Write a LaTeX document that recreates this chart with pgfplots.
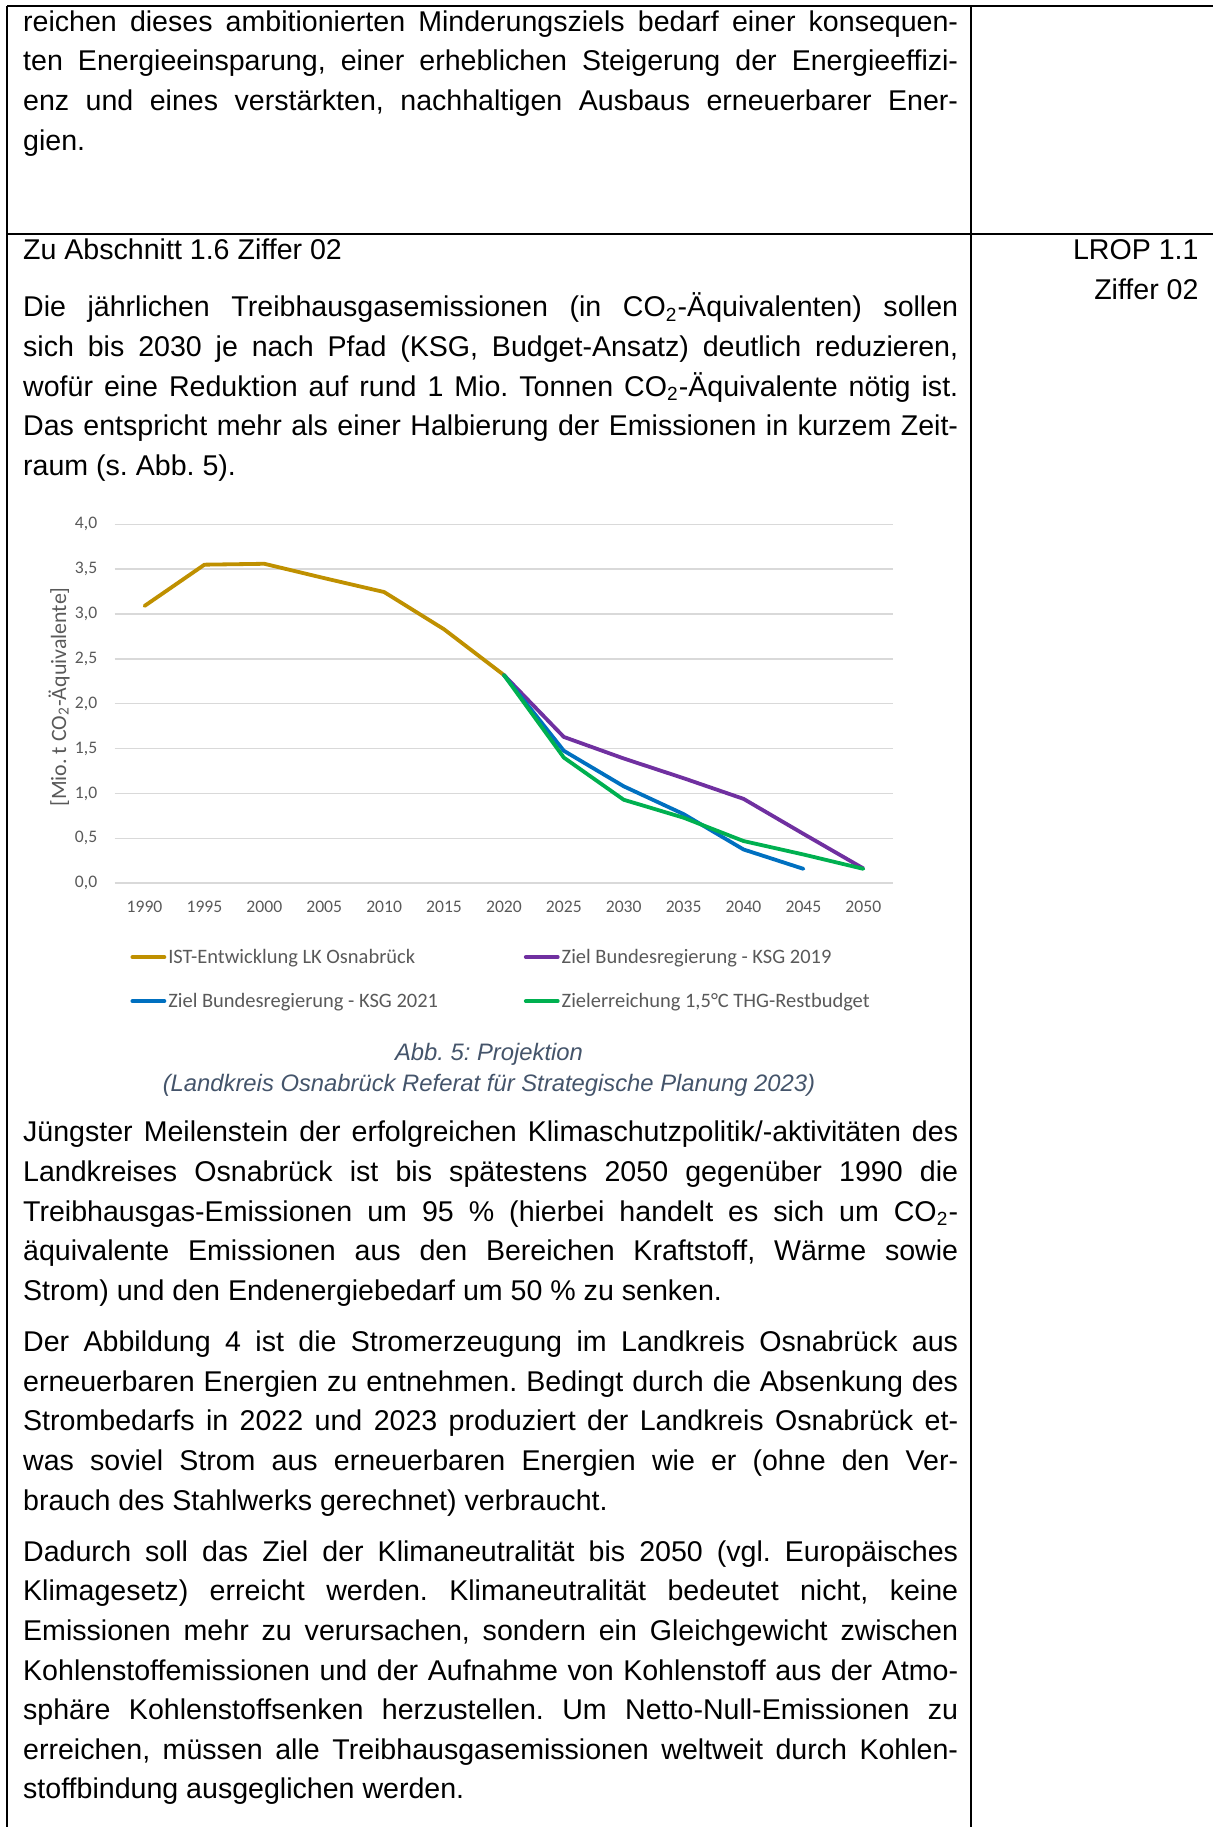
\documentclass[border=0pt]{standalone}
\usepackage{fontspec}
\setmainfont{Liberation Sans}
\newfontfamily\carlito{Carlito}
\usepackage{pgfplots}
\pgfplotsset{compat=1.18}
\definecolor{cgold}{HTML}{BF9000}
\definecolor{cpurple}{HTML}{7030A0}
\definecolor{cblue}{HTML}{0070C0}
\definecolor{cgreen}{HTML}{00B050}
\definecolor{cgrid}{HTML}{D9D9D9}
\definecolor{ctick}{HTML}{595959}
\definecolor{ccap}{HTML}{44546A}
\newcommand\body{\fontsize{12pt}{14pt}\selectfont}
\newcommand\J[2]{\node[anchor=base west,inner sep=0pt,font=\body] at (22.7,-#1) {\hbox to 392.7pt{#2}};}
\newcommand\Ln[2]{\node[anchor=base west,inner sep=0pt,font=\body] at (22.7,-#1) {#2};}
\newcommand\LE[1]{\makebox[148.5pt][l]{\rule[-2.5pt]{0pt}{9pt}#1}}
\frenchspacing
\begin{document}
\frenchspacing
\begin{tikzpicture}[x=0.42pt,y=0.42pt]
\useasboundingbox (0,0) rectangle (1213,-1827);
% table borders
\draw[line width=1.1pt] (7,-6) -- (1213,-6);
\draw[line width=0.9pt] (7,-6) -- (7,-1827);
\draw[line width=0.6pt] (971,-6) -- (971,-1827);
\draw[line width=0.7pt] (7,-234) -- (1213,-234);
% paragraph 1
\J{31.3}{reichen dieses ambitionierten Minderungsziels bedarf einer konsequen-}
\J{70.9}{ten Energieeinsparung, einer erheblichen Steigerung der Energieeffizi-}
\J{110.5}{enz und eines verstärkten, nachhaltigen Ausbaus erneuerbarer Ener-}
\Ln{150.2}{gien.}
% heading
\Ln{259.7}{Zu Abschnitt 1.6 Ziffer 02}
\node[anchor=base east,inner sep=0pt,font=\body] at (1199,-259.7) {LROP 1.1};
\node[anchor=base east,inner sep=0pt,font=\body] at (1199,-299.3) {Ziffer 02};
% paragraph 2
\J{316.8}{Die jährlichen Treibhausgasemissionen (in CO\textsubscript{2}-Äquivalenten) sollen}
\J{356.4}{sich bis 2030 je nach Pfad (KSG, Budget-Ansatz) deutlich reduzieren,}
\J{396.0}{wofür eine Reduktion auf rund 1 Mio. Tonnen CO\textsubscript{2}-Äquivalente nötig ist.}
\J{435.6}{Das entspricht mehr als einer Halbierung der Emissionen in kurzem Zeit-}
\Ln{475.2}{raum (s. Abb. 5).}
% chart
\begin{axis}[
  at={(48.13pt,-370.94pt)}, anchor=south west,
  scale only axis, width=327.05pt, height=150.74pt,
  xmin=1987.5, xmax=2052.5, ymin=0, ymax=4,
  xtick={1990,1995,...,2050}, ytick={0,0.5,...,4},
  axis line style={draw=none}, major tick length=0pt,
  ymajorgrids, grid style={draw=cgrid, line width=0.6pt},
  tick label style={font=\carlito\fontsize{7.4pt}{8pt}\selectfont, text=ctick, inner sep=0pt},
  /pgf/number format/assume math mode=true,
  xticklabel style={/pgf/number format/1000 sep={}, anchor=north, yshift=-7.1pt},
  yticklabel style={/pgf/number format/.cd, fixed, fixed zerofill, precision=1, use comma, /tikz/.cd, anchor=east, xshift=-7.1pt},
  ylabel={[Mio.\ t CO\textsubscript{2}-Äquivalente]},
  ylabel style={font=\carlito\fontsize{9.2pt}{10pt}\selectfont, text=ctick, at={(axis description cs:-0.0714,0.519)}, anchor=center, rotate=0},
  legend columns=2,
  legend style={at={(axis description cs:0.0198,-0.178)}, anchor=north west, draw=none, fill=none, inner sep=0pt, column sep=0.84pt, row sep=10.5pt, font=\carlito\fontsize{8.6pt}{9pt}\selectfont, text=ctick, nodes={inner sep=0pt}, cells={anchor=west}},
  legend image code/.code={\draw[#1, line width=1.6pt] (0pt,0pt) -- (13.44pt,0pt);},
  every axis plot/.append style={line width=1.6pt, line join=round, line cap=round},
]
\addplot[cgold] coordinates {(1990,3.09) (1995,3.55) (2000,3.56) (2005,3.40) (2010,3.245) (2015,2.83) (2020,2.32)};
\addlegendentry{\LE{IST-Entwicklung LK Osnabrück}}
\addplot[cpurple] coordinates {(2020,2.32) (2025,1.63) (2030,1.39) (2035,1.17) (2040,0.94) (2045,0.55) (2050,0.165)};
\addlegendentry{\LE{Ziel Bundesregierung - KSG 2019}}
\addplot[cblue] coordinates {(2020,2.32) (2025,1.476) (2030,1.08) (2035,0.77) (2040,0.376) (2045,0.16)};
\addlegendentry{\LE{Ziel Bundesregierung - KSG 2021}}
\addplot[cgreen] coordinates {(2020,2.32) (2025,1.40) (2030,0.93) (2035,0.73) (2040,0.47) (2045,0.32) (2050,0.16)};
\addlegendentry{\LE{Zielerreichung 1,5°C THG-Restbudget}}
\end{axis}
% caption
\node[anchor=base,inner sep=0pt,font=\fontsize{10pt}{12pt}\selectfont\itshape,text=ccap] at (489,-1060.2) {Abb. 5: Projektion};
\node[anchor=base,inner sep=0pt,font=\fontsize{10pt}{12pt}\selectfont\itshape,text=ccap] at (489,-1091.6) {(Landkreis Osnabrück Referat für Strategische Planung 2023)};
% paragraph 3
\J{1141.7}{Jüngster Meilenstein der erfolgreichen Klimaschutzpolitik/-aktivitäten des}
\J{1181.3}{Landkreises Osnabrück ist bis spätestens 2050 gegenüber 1990 die}
\J{1221.0}{Treibhausgas-Emissionen um 95 \% (hierbei handelt es sich um CO\textsubscript{2}-}
\J{1260.6}{äquivalente Emissionen aus den Bereichen Kraftstoff, Wärme sowie}
\Ln{1300.2}{Strom) und den Endenergiebedarf um 50 \% zu senken.}
% paragraph 4
\J{1351.5}{Der Abbildung 4 ist die Stromerzeugung im Landkreis Osnabrück aus}
\J{1391.1}{erneuerbaren Energien zu entnehmen. Bedingt durch die Absenkung des}
\J{1430.7}{Strombedarfs in 2022 und 2023 produziert der Landkreis Osnabrück et-}
\J{1470.3}{was soviel Strom aus erneuerbaren Energien wie er (ohne den Ver-}
\Ln{1510.0}{brauch des Stahlwerks gerechnet) verbraucht.}
% paragraph 5
\J{1561.2}{Dadurch soll das Ziel der Klimaneutralität bis 2050 (vgl. Europäisches}
\J{1600.8}{Klimagesetz) erreicht werden. Klimaneutralität bedeutet nicht, keine}
\J{1640.4}{Emissionen mehr zu verursachen, sondern ein Gleichgewicht zwischen}
\J{1680.1}{Kohlenstoffemissionen und der Aufnahme von Kohlenstoff aus der Atmo-}
\J{1719.7}{sphäre Kohlenstoffsenken herzustellen. Um Netto-Null-Emissionen zu}
\J{1759.3}{erreichen, müssen alle Treibhausgasemissionen weltweit durch Kohlen-}
\Ln{1798.9}{stoffbindung ausgeglichen werden.}
\end{tikzpicture}
\end{document}
